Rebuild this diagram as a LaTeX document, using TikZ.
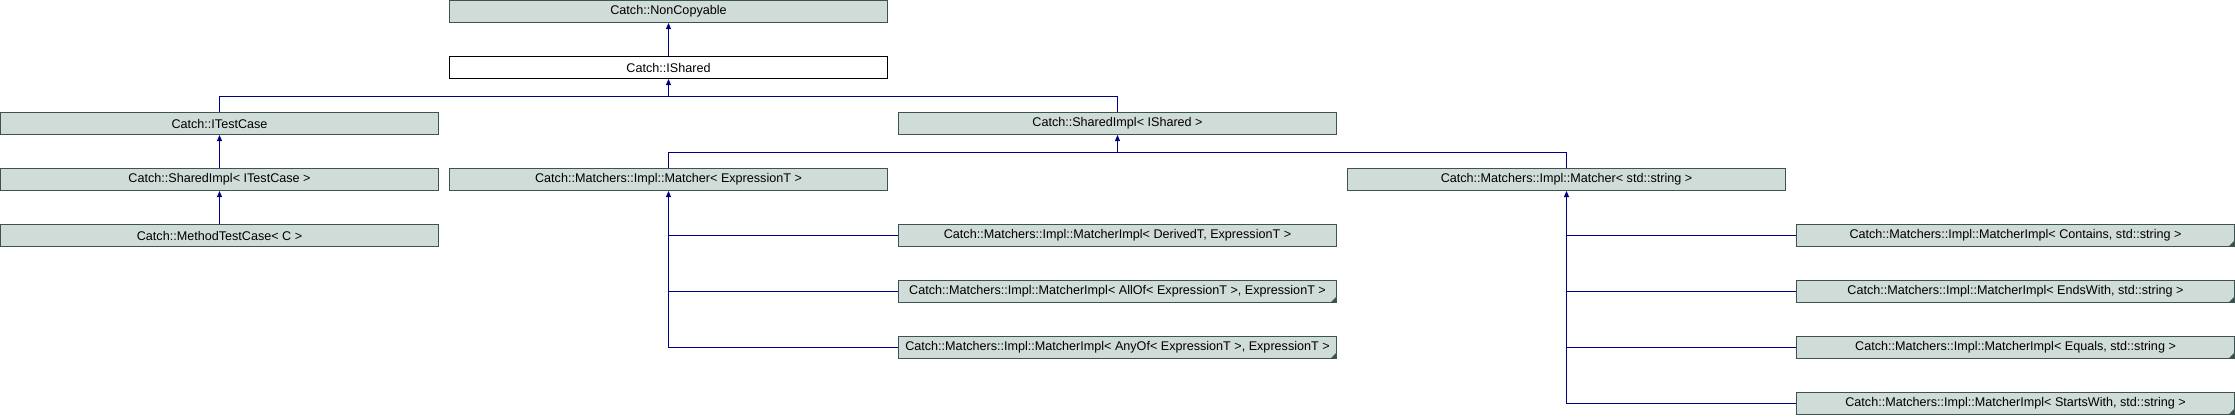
\documentclass[tikz,border=0pt]{standalone}
\usepackage{fontspec}
\setmainfont{Liberation Sans}
\usetikzlibrary{arrows.meta}
\definecolor{boxfill}{HTML}{D0DCD8}
\definecolor{boxline}{HTML}{3C5450}
\definecolor{edgecol}{HTML}{000080}
\newcommand\mkcorner[1]{\fill[boxline] ([xshift=-0.5pt,yshift=0.5pt]#1.south east) -- ++(-6,0) -- ++(6,-6) -- cycle;}
\begin{document}
\begin{tikzpicture}[x=1pt,y=-1pt,
  cls/.style={draw=boxline, fill=boxfill, line width=1pt, minimum width=438pt, minimum height=22pt, inner sep=0pt, font=\fontsize{12.6}{14}\selectfont},
  wcls/.style={cls, fill=white, draw=black},
  conn/.style={draw=edgecol, line width=1pt},
  arr/.style={conn, -{Triangle[width=5pt,length=6pt]}}]
\useasboundingbox (0,0) rectangle (2235,416);
% nodes
\node[cls]  (nc)   at (668.5,11.5)  {Catch::NonCopyable};
\node[wcls] (ish)  at (668.5,67.5)  {Catch::IShared};
\node[cls]  (itc)  at (219.5,123.5) {Catch::ITestCase};
\node[cls]  (sis)  at (1117.5,123.5) {Catch::SharedImpl< IShared >};
\node[cls]  (sitc) at (219.5,179.5) {Catch::SharedImpl< ITestCase >};
\node[cls]  (mex)  at (668.5,179.5) {Catch::Matchers::Impl::Matcher< ExpressionT >};
\node[cls]  (mstr) at (1566.5,179.5) {Catch::Matchers::Impl::Matcher< std::string >};
\node[cls]  (mtc)  at (219.5,235.5) {Catch::MethodTestCase< C >};
\node[cls]  (mid)  at (1117.5,235.5) {Catch::Matchers::Impl::MatcherImpl< DerivedT, ExpressionT >};
\node[cls]  (mall) at (1117.5,291.5) {Catch::Matchers::Impl::MatcherImpl< AllOf< ExpressionT >, ExpressionT >};
\node[cls]  (many) at (1117.5,347.5) {Catch::Matchers::Impl::MatcherImpl< AnyOf< ExpressionT >, ExpressionT >};
\node[cls]  (mcon) at (2015.5,235.5) {Catch::Matchers::Impl::MatcherImpl< Contains, std::string >};
\node[cls]  (mend) at (2015.5,291.5) {Catch::Matchers::Impl::MatcherImpl< EndsWith, std::string >};
\node[cls]  (mequ) at (2015.5,347.5) {Catch::Matchers::Impl::MatcherImpl< Equals, std::string >};
\node[cls]  (msta) at (2015.5,403.5) {Catch::Matchers::Impl::MatcherImpl< StartsWith, std::string >};
\mkcorner{mall}
\mkcorner{many}
\mkcorner{mcon}
\mkcorner{mend}
\mkcorner{mequ}
\mkcorner{msta}
% connectors
\draw[arr] (ish) -- (nc);
\coordinate (j1) at (ish.south |- 0,96.5);
\draw[conn] (itc.north) |- (j1) -| (sis.north);
\draw[arr] (j1) -- (ish.south);
\coordinate (j2) at (sis.south |- 0,152.5);
\draw[conn] (mex.north) |- (j2) -| (mstr.north);
\draw[arr] (j2) -- (sis.south);
\draw[arr] (sitc) -- (itc);
\draw[arr] (mtc) -- (sitc);
\draw[arr] (many.west) -| (mex.south);
\draw[conn] (mid.west) -- (mid.west -| mex.south);
\draw[conn] (mall.west) -- (mall.west -| mex.south);
\draw[arr] (msta.west) -| (mstr.south);
\draw[conn] (mcon.west) -- (mcon.west -| mstr.south);
\draw[conn] (mend.west) -- (mend.west -| mstr.south);
\draw[conn] (mequ.west) -- (mequ.west -| mstr.south);
\end{tikzpicture}
\end{document}
